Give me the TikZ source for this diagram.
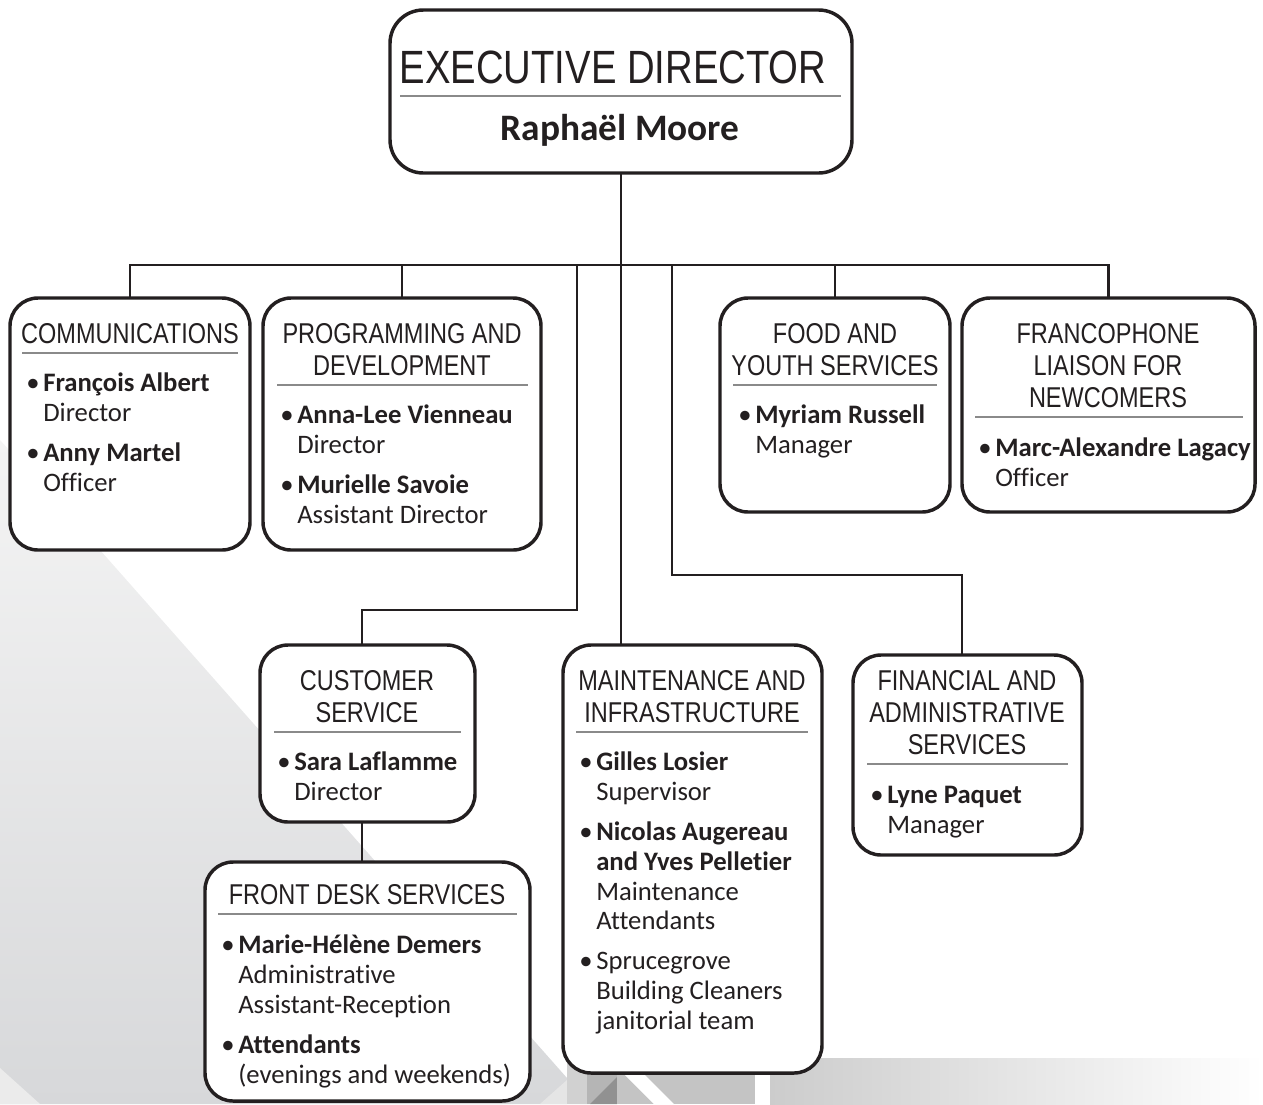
\documentclass[tikz,border=0pt]{standalone}
\usepackage{fontspec}
\setmainfont{Carlito}[Ligatures=NoCommon]
\newfontfamily\hdfont[FakeStretch=0.82]{Liberation Sans}
\usetikzlibrary{calc}
\definecolor{ink}{HTML}{231F20}
\definecolor{rulec}{HTML}{8A8A8A}
\pgfdeclarelayer{bg}
\pgfdeclarelayer{lines}
\pgfsetlayers{bg,lines,main}
\newcounter{tn}
\newcommand\bx[5]{\node[orgbox, minimum width={(#4-#2)*0.75pt}, minimum height={(#5-#3)*0.75pt}] (#1) at ({(#2+#4)/2},{(#3+#5)/2}) {};}
\newcommand\hd[3]{\stepcounter{tn}\node[hdt] (t\arabic{tn}) at (#1,#2) {#3};}
\newcommand\pb[3]{\stepcounter{tn}\node[bt] (t\arabic{tn}) at ({#1-2},#2) {•};\stepcounter{tn}\node[bt,font=\bfseries\fontsize{20}{24}\selectfont] (t\arabic{tn}) at ({#1+15},#2) {#3};}
\newcommand\pbr[3]{\stepcounter{tn}\node[bt] (t\arabic{tn}) at ({#1-2},#2) {•};\stepcounter{tn}\node[bt] (t\arabic{tn}) at ({#1+15},#2) {#3};}
\newcommand\pr[3]{\stepcounter{tn}\node[bt] (t\arabic{tn}) at ({#1+15},#2) {#3};}
\newcommand\prb[3]{\stepcounter{tn}\node[bt,font=\bfseries\fontsize{20}{24}\selectfont] (t\arabic{tn}) at ({#1+15},#2) {#3};}
\newcommand\dv[3]{\draw[divline] (#1,#3) -- (#2,#3);}
\begin{document}
\begin{tikzpicture}[x=0.75pt,y=-0.75pt,
  orgbox/.style={draw=ink, line width=2.6pt, rounded corners=21pt, fill=white, inner sep=0pt, outer sep=0pt},
  hdt/.style={anchor=base, inner sep=0pt, text=ink, font=\hdfont\fontsize{21.5}{24}\selectfont},
  bt/.style={anchor=base west, inner sep=0pt, text=ink, font=\fontsize{20}{24}\selectfont},
  divline/.style={draw=rulec, line width=0.8pt},
  conn/.style={draw=ink, line width=1.6pt}]
\useasboundingbox (0,0) rectangle (1263,1104);

% ---------- boxes ----------
\node[orgbox, rounded corners=25pt, minimum width={462*0.75pt}, minimum height={163*0.75pt}] (exec) at (621,91.5) {};
\bx{comm}{10}{298}{250}{550}
\bx{prog}{263}{298}{541}{550}
\bx{food}{720}{298}{950}{512}
\bx{franco}{962}{298}{1255}{512}
\bx{cust}{260}{645}{475}{822}
\bx{maint}{563}{645}{822}{1073}
\bx{fin}{853}{655}{1082}{855}
\bx{front}{205}{862}{530}{1101}

% ---------- background ----------
\begin{pgfonlayer}{bg}
\shade[top color={rgb,255:red,244;green,244;blue,244}, bottom color={rgb,255:red,215;green,216;blue,218}]
  (0,440) -- (100,550) -- (590,1104) -- (0,1104) -- cycle;
\fill[white!92!black] (0,1068) -- (40,1104) -- (0,1104) -- cycle;
\fill[white!90!black] (540,1104) -- (567,1080) -- (567,1104) -- cycle;
\fill[white!82!black] (567,1060) rectangle (587,1104);
\fill[white!71!black] (587,1060) rectangle (617,1104);
\fill[white!57!black] (617,1077) -- (617,1104) -- (590,1104) -- cycle;
\fill[white!77!black] (617,1060) rectangle (755,1104);
\fill[white] (625,1075) -- (645,1075) -- (674,1104) -- (654,1104) -- cycle;
\shade[left color={rgb,255:red,204;green,204;blue,204}, right color=white] (770,1058) rectangle (1263,1104);
\end{pgfonlayer}

% ---------- connectors ----------
\begin{pgfonlayer}{lines}
\coordinate (busy) at (0,265);
\coordinate (j1) at (577,265);
\coordinate (k1) at (362,610);
\coordinate (j2) at (672,265);
\coordinate (k2) at (962,575);
\draw[conn] (exec.south) -- (exec.south |- maint.north);
\draw[conn] (comm.north) -- (comm.north |- busy) -- (franco.north |- busy) -- (franco.north);
\draw[conn] (prog.north) -- (prog.north |- busy);
\draw[conn] (food.north) -- (food.north |- busy);
\draw[conn] (j1) |- (k1) -- (k1 |- cust.north);
\draw[conn] (j2) |- (k2) -- (k2 |- fin.north);
\draw[conn] (k1 |- cust.south) -- (k1 |- front.north);
\end{pgfonlayer}

% ---------- executive ----------
\stepcounter{tn}\node[hdt, font=\hdfont\fontsize{35}{40}\selectfont] (t\arabic{tn}) at (613,83) {EXECUTIVE DIRECTOR};
\dv{400}{841}{96}
\stepcounter{tn}\node[anchor=base, inner sep=0pt, text=ink, font=\bfseries\fontsize{28}{32}\selectfont] (t\arabic{tn}) at (620,140) {Raphaël Moore};

% ---------- communications ----------
\hd{130}{343}{COMMUNICATIONS}
\dv{22}{238}{353}
\pb{28}{391}{François Albert}
\pr{28}{421}{Director}
\pb{28}{461}{Anny Martel}
\pr{28}{491}{Officer}

% ---------- programming ----------
\hd{402}{343}{PROGRAMMING AND}
\hd{402}{375}{DEVELOPMENT}
\dv{277}{528}{385}
\pb{282}{423}{Anna-Lee Vienneau}
\pr{282}{453}{Director}
\pb{282}{493}{Murielle Savoie}
\pr{282}{523}{Assistant Director}

% ---------- food ----------
\hd{835}{343}{FOOD AND}
\hd{835}{375}{YOUTH SERVICES}
\dv{733}{937}{385}
\pb{740}{423}{Myriam Russell}
\pr{740}{453}{Manager}

% ---------- francophone ----------
\hd{1108}{343}{FRANCOPHONE}
\hd{1108}{375}{LIAISON FOR}
\hd{1108}{407}{NEWCOMERS}
\dv{975}{1243}{417}
\pb{980}{456}{Marc-Alexandre Lagacy}
\pr{980}{486}{Officer}

% ---------- customer service ----------
\hd{367}{690}{CUSTOMER}
\hd{367}{722}{SERVICE}
\dv{274}{461}{732}
\pb{279}{770}{Sara Laflamme}
\pr{279}{800}{Director}

% ---------- maintenance ----------
\hd{692}{690}{MAINTENANCE AND}
\hd{692}{722}{INFRASTRUCTURE}
\dv{576}{808}{732}
\pb{581}{770}{Gilles Losier}
\pr{581}{800}{Supervisor}
\pb{581}{840}{Nicolas Augereau}
\prb{581}{870}{and Yves Pelletier}
\pr{581}{900}{Maintenance}
\pr{581}{929}{Attendants}
\pbr{581}{969}{Sprucegrove}
\pr{581}{999}{Building Cleaners}
\pr{581}{1029}{janitorial team}

% ---------- financial ----------
\hd{967}{690}{FINANCIAL AND}
\hd{967}{722}{ADMINISTRATIVE}
\hd{967}{754}{SERVICES}
\dv{867}{1068}{764}
\pb{872}{803}{Lyne Paquet}
\pr{872}{833}{Manager}

% ---------- front desk ----------
\hd{367}{904}{FRONT DESK SERVICES}
\dv{218}{517}{914}
\pb{223}{953}{Marie-Hélène Demers}
\pr{223}{983}{Administrative}
\pr{223}{1013}{Assistant-Reception}
\pb{223}{1053}{Attendants}
\pr{223}{1083}{(evenings and weekends)}
\end{tikzpicture}
\end{document}
